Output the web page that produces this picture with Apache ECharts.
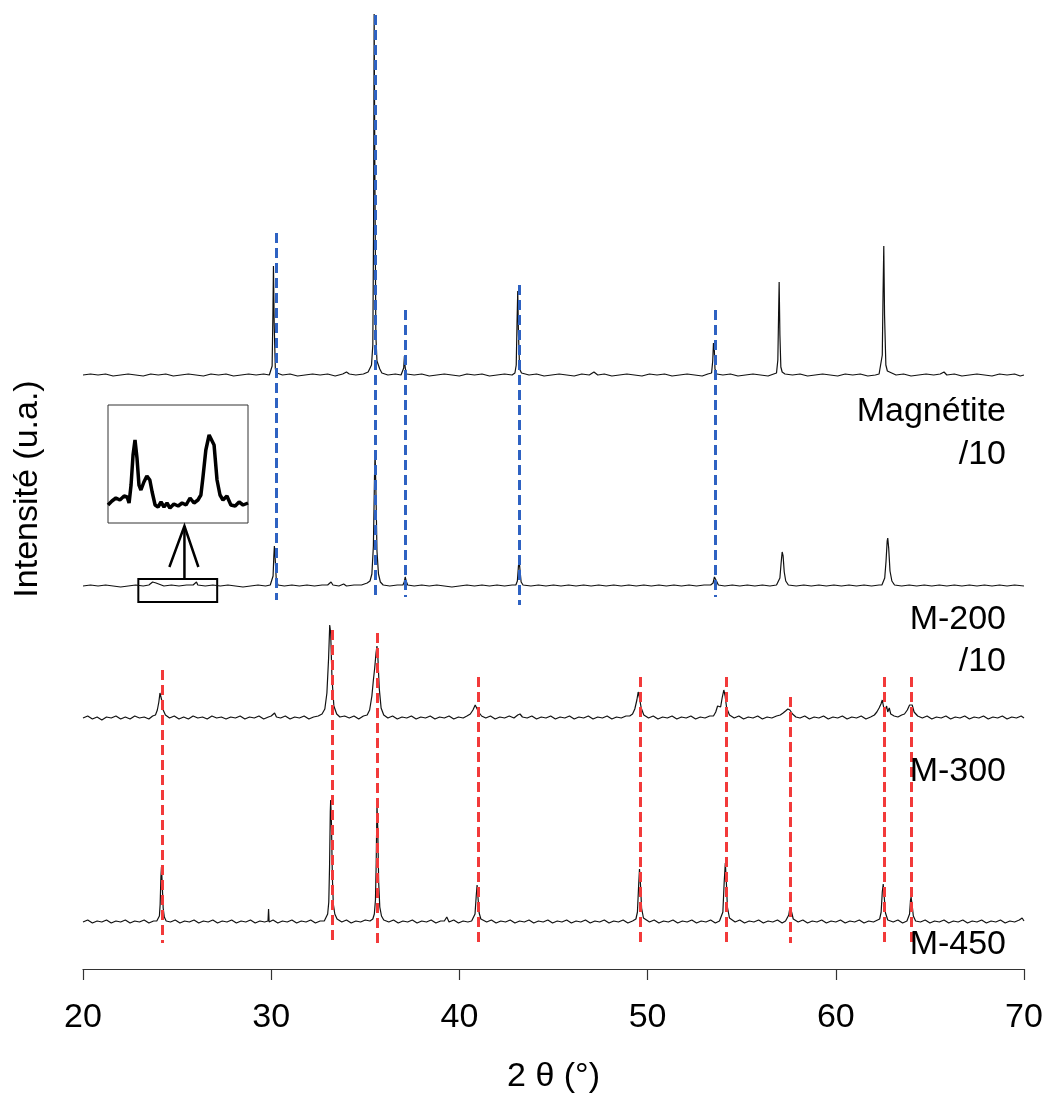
<!DOCTYPE html>
<html>
<head>
<meta charset="utf-8">
<script src="https://cdn.jsdelivr.net/npm/echarts@6/dist/echarts.min.js"></script>
<style>
html,body{margin:0;padding:0;background:#fff;}
#chart{width:1050px;height:1101px;}
</style>
</head>
<body>
<div id="chart"></div>
<script>
// ---------- DATA ----------
const xTickValues = [20, 30, 40, 50, 60, 70];
const seriesNames = ['Magnétite', 'M-200', 'M-300', 'M-450'];
const rightLabels = [['Magnétite', '/10'], ['M-200', '/10'], ['M-300'], ['M-450']];
// vertical offsets (stacking) of each pattern, u.a.
const offsets = [594, 383, 251, 47];

// Magnétite /10  : [2θ, intensity above own baseline]
const magnetite = [[20,0],[20.4,1],[20.8,0],[21.2,1],[21.6,-1],[22,0],[22.4,1],[22.8,0],[23.2,-1],[23.6,1],[24,0],[24.4,1],[24.8,-1],[25.2,0],[25.6,1],[26,0],[26.4,-1],[26.8,1],[27.2,0],[27.6,1],[28,-1],[28.4,0],[28.8,1],[29.2,0],[29.6,1],[29.9,0],
[29.98,2],[30.05,9],[30.09,60],[30.12,109],[30.16,50],[30.22,6],[30.3,2],
[30.6,0],[31,1],[31.4,-1],[31.8,0],[32.2,1],[32.6,0],[33,1],[33.4,-1],[33.8,1],[34.0,3],[34.15,1],[34.5,0],[34.9,1],[35.15,3],
[35.25,5],[35.33,10],[35.4,30],[35.44,150],[35.47,361],[35.51,200],[35.56,40],[35.62,14],[35.7,16],[35.77,6],[35.88,2],
[36.2,0],[36.6,1],[36.9,0],
[36.99,2],[37.04,7],[37.08,19],[37.12,7],[37.2,1],
[37.6,0],[38,1],[38.4,-1],[38.8,0],[39.2,1],[39.6,0],[40,-1],[40.4,1],[40.8,0],[41.2,1],[41.6,-1],[42,0],[42.4,1],[42.8,0],
[42.95,2],[43.02,10],[43.06,50],[43.1,84],[43.14,40],[43.2,6],[43.3,2],
[43.7,0],[44.1,1],[44.5,-1],[44.9,0],[45.3,1],[45.7,0],[46.1,-1],[46.5,1],[46.9,0],[47.15,3],[47.35,0],[47.7,1],[48.1,-1],[48.5,0],[48.9,1],[49.3,0],[49.7,-1],[50.1,1],[50.5,0],[50.9,1],[51.3,-1],[51.7,0],[52.1,1],[52.5,0],[52.9,-1],[53.2,1],
[53.4,2],[53.46,14],[53.5,32],[53.54,28],[53.58,6],[53.68,1],
[54,0],[54.4,1],[54.8,-1],[55.2,0],[55.6,1],[56,0],[56.4,-1],[56.7,1],
[56.85,2],[56.92,15],[56.96,60],[56.99,93],[57.03,40],[57.08,8],[57.15,3],[57.22,4],[57.3,1],
[57.7,0],[58.1,1],[58.5,-1],[58.9,0],[59.3,1],[59.7,0],[60.1,-1],[60.5,1],[60.9,0],[61.3,1],[61.7,-1],[62.1,0],[62.3,1],
[62.4,2],[62.47,20],[62.51,80],[62.55,129],[62.59,60],[62.66,10],[62.74,4],[62.84,2],
[63.2,0],[63.6,1],[64,-1],[64.4,0],[64.8,1],[65.2,0],[65.55,1],[65.75,3],[65.9,0],[66.3,1],[66.7,-1],[67.1,0],[67.5,1],[67.9,0],[68.3,-1],[68.7,1],[69.1,0],[69.5,1],[69.8,-1],[70,0]];

// M-200 /10
const m200 = [[20,0],[20.4,1],[20.8,0],[21.2,1],[21.6,0],[22,-1],[22.4,0],[22.8,1],[23.2,0],[23.5,1],
[23.6,2],[23.7,4],[23.78,2],[23.88,3],[23.98,1],[24.3,0],[24.7,1],[25.1,0],[25.5,1],[25.85,1],[25.95,3],[26.03,4],[26.1,1],[26.5,0],
[26.9,1],[27.3,0],[27.7,1],[28.1,0],[28.5,-1],[28.9,0],[29.3,1],[29.7,0],[29.95,1],
[30.03,2],[30.1,10],[30.14,30],[30.17,40],[30.21,28],[30.27,6],[30.36,1],
[30.7,0],[31.1,1],[31.5,0],[31.9,1],[32.3,0],[32.7,1],[33.0,1],[33.1,3],[33.18,4],[33.28,1],[33.6,0],[33.85,2],[34.0,0],[34.4,1],[34.8,1],[35.1,3],
[35.25,5],[35.35,12],[35.43,40],[35.49,110],[35.52,133],[35.56,100],[35.62,35],[35.7,12],[35.8,4],[35.95,1],
[36.3,0],[36.7,1],[37.0,1],[37.07,4],[37.12,9],[37.17,5],[37.25,1],
[37.6,0],[38,1],[38.4,0],[38.8,1],[39.2,0],[39.6,-1],[40,0],[40.4,1],[40.8,0],[41.2,1],[41.6,0],[42,1],[42.4,0],[42.8,1],[43.0,1],
[43.08,5],[43.13,18],[43.17,27],[43.21,18],[43.28,4],[43.38,1],
[43.8,0],[44.2,1],[44.6,0],[45,1],[45.4,0],[45.8,1],[46.2,0],[46.6,1],[47,0],[47.4,1],[47.8,0],[48.2,1],[48.6,0],[49,1],[49.4,0],[49.8,1],[50.2,0],[50.6,1],[51,0],[51.4,1],[51.8,0],[52.2,1],[52.6,0],[53,1],[53.35,1],
[53.48,3],[53.55,9],[53.6,11],[53.66,5],[53.76,1],
[54.1,0],[54.5,1],[54.9,0],[55.3,1],[55.7,0],[56.1,1],[56.5,0],[56.85,1],
[56.95,2],[57.03,8],[57.09,22],[57.15,34],[57.2,30],[57.26,14],[57.34,5],[57.48,1],
[57.9,0],[58.3,1],[58.7,0],[59.1,1],[59.5,0],[59.9,1],[60.3,0],[60.7,1],[61.1,0],[61.5,1],[61.9,0],[62.3,1],[62.45,1],
[62.52,2],[62.6,8],[62.67,25],[62.73,45],[62.76,48],[62.81,38],[62.88,15],[62.98,5],[63.12,1],
[63.5,0],[63.9,1],[64.3,0],[64.7,1],[65.1,0],[65.5,1],[65.9,0],[66.3,1],[66.7,0],[67.1,1],[67.5,0],[67.9,1],[68.3,0],[68.7,1],[69.1,0],[69.5,1],[70,0]];

// M-300
const m300 = [[20,0],[20.25,2],[20.5,-1],[20.75,1],[21,-2],[21.25,1],[21.5,0],[21.75,2],[22,-1],[22.25,1],[22.5,-1],[22.75,2],[23,0],[23.25,1],[23.5,-1],[23.7,2],
[23.85,3],[23.95,8],[24.03,16],[24.09,25],[24.13,27],[24.18,18],[24.26,8],[24.38,3],
[24.6,0],[24.85,2],[25.1,-1],[25.35,1],[25.6,-1],[25.85,2],[26.1,0],[26.35,1],[26.6,-1],[26.85,2],[27.1,0],[27.35,1],[27.6,-1],[27.85,1],[28.1,0],[28.35,2],[28.6,-1],[28.85,1],[29.1,0],[29.35,2],[29.6,-1],[29.85,1],
[30.0,2],[30.1,4],[30.18,5],[30.28,1],[30.5,0],[30.75,2],[31,-1],[31.25,1],[31.5,0],[31.75,2],[32,-1],[32.25,1],[32.5,2],
[32.7,4],[32.85,9],[32.96,25],[33.05,60],[33.11,93],[33.16,85],[33.23,40],[33.33,12],[33.48,4],[33.65,1],
[33.9,2],[34.15,0],[34.4,2],[34.65,-1],[34.9,2],
[35.1,3],[35.23,8],[35.35,22],[35.43,38],[35.5,50],[35.57,65],[35.62,72],[35.67,60],[35.74,30],[35.84,10],[35.98,3],
[36.2,0],[36.45,2],[36.7,-1],[36.95,1],[37.2,0],[37.45,2],[37.7,-1],[37.95,1],[38.2,0],[38.45,2],[38.7,-1],[38.95,1],[39.2,0],[39.45,2],[39.7,-1],[39.95,1],[40.2,0],[40.4,2],
[40.58,4],[40.72,8],[40.84,13],[40.92,14],[41.02,6],[41.18,2],
[41.4,0],[41.65,2],[41.9,-1],[42.15,1],[42.4,0],[42.65,2],[42.9,0],[43.1,3],[43.22,4],[43.35,1],[43.6,0],[43.85,2],[44.1,-1],[44.35,1],[44.6,0],[44.85,2],[45.1,-1],[45.35,1],[45.6,0],[45.85,2],[46.1,-1],[46.35,1],[46.6,0],[46.85,2],[47.1,-1],[47.35,1],[47.6,0],[47.85,2],[48.1,-1],[48.35,1],[48.6,0],[48.85,2],[49.05,2],
[49.2,4],[49.32,9],[49.43,18],[49.5,26],[49.57,20],[49.66,10],[49.8,3],
[50.05,0],[50.3,2],[50.55,-1],[50.8,1],[51.05,0],[51.3,2],[51.55,-1],[51.8,1],[52.05,0],[52.3,2],[52.55,-1],[52.8,1],[53.05,0],[53.3,2],[53.5,2],
[53.62,6],[53.72,12],[53.8,14],[53.88,11],[53.96,20],[54.05,28],[54.12,22],[54.2,10],[54.35,3],
[54.6,0],[54.85,2],[55.1,-1],[55.35,1],[55.6,0],[55.85,2],[56.1,-1],[56.35,1],[56.6,0],[56.85,2],[57.05,3],[57.2,5],[57.33,7],[57.45,9],[57.56,8],[57.7,4],[57.88,1],
[58.1,0],[58.35,2],[58.6,-1],[58.85,1],[59.1,0],[59.35,2],[59.6,-1],[59.85,1],[60.1,0],[60.35,2],[60.6,-1],[60.85,1],[61.1,0],[61.35,2],[61.6,-1],[61.85,1],[62.05,3],
[62.18,6],[62.3,10],[62.4,14],[62.47,18],[62.54,11],[62.62,8],[62.7,12],[62.76,6],[62.84,10],[62.92,4],[63.1,2],[63.3,1],[63.5,3],
[63.65,4],[63.8,8],[63.92,13],[63.99,15],[64.06,13],[64.16,6],[64.35,2],
[64.6,0],[64.85,2],[65.1,-1],[65.35,1],[65.6,0],[65.85,2],[66.1,-1],[66.35,1],[66.6,0],[66.85,2],[67.1,-1],[67.35,1],[67.6,0],[67.85,2],[68.1,-1],[68.35,1],[68.6,0],[68.85,2],[69.1,-1],[69.35,1],[69.6,0],[69.85,2],[70,0]];

// M-450
const m450 = [[20,0],[20.25,2],[20.5,-1],[20.75,1],[21,0],[21.25,2],[21.5,-1],[21.75,1],[22,0],[22.25,2],[22.5,-1],[22.75,1],[23,0],[23.25,2],[23.5,-1],[23.75,1],[23.92,1],
[24.0,2],[24.06,6],[24.1,18],[24.14,45],[24.17,55],[24.21,38],[24.26,14],[24.32,5],[24.42,1],
[24.65,0],[24.9,2],[25.15,-1],[25.4,1],[25.65,0],[25.9,2],[26.15,-1],[26.4,1],[26.65,0],[26.9,2],[27.15,-1],[27.4,1],[27.65,0],[27.9,2],[28.15,-1],[28.4,1],[28.65,0],[28.9,2],[29.15,-1],[29.4,1],[29.65,0],[29.83,1],[29.86,13],[29.89,0],[30.1,2],[30.35,-1],[30.6,1],[30.85,0],[31.1,2],[31.35,-1],[31.6,1],[31.85,0],[32.1,2],[32.35,-1],[32.6,1],[32.82,1],
[32.9,3],[33.0,8],[33.06,20],[33.1,55],[33.14,110],[33.16,122],[33.2,100],[33.25,45],[33.3,18],[33.38,8],[33.5,3],
[33.75,0],[34,2],[34.25,-1],[34.5,1],[34.75,0],[35,2],[35.25,1],
[35.4,3],[35.48,8],[35.54,22],[35.58,60],[35.62,117],[35.66,95],[35.71,40],[35.77,15],[35.86,6],[35.98,2],
[36.25,0],[36.5,2],[36.75,-1],[37,1],[37.25,0],[37.5,2],[37.75,-1],[38,1],[38.25,0],[38.5,2],[38.75,-1],[39,1],[39.2,1],[39.33,5],[39.45,0],[39.7,2],[39.95,-1],[40.2,1],[40.45,0],[40.65,1],
[40.75,2],[40.83,8],[40.89,25],[40.94,37],[40.99,24],[41.05,9],[41.14,3],
[41.45,0],[41.7,2],[41.95,-1],[42.2,1],[42.45,0],[42.7,2],[42.95,-1],[43.2,1],[43.45,0],[43.7,2],[43.95,-1],[44.2,1],[44.45,0],[44.7,2],[44.95,-1],[45.2,1],[45.45,0],[45.7,2],[45.95,-1],[46.2,1],[46.45,0],[46.7,2],[46.95,-1],[47.2,1],[47.45,0],[47.7,2],[47.95,-1],[48.2,1],[48.45,0],[48.7,2],[48.95,-1],[49.2,1],[49.3,1],
[49.38,3],[49.46,10],[49.52,35],[49.57,53],[49.62,38],[49.68,14],[49.78,4],
[50.1,0],[50.35,2],[50.6,-1],[50.85,1],[51.1,0],[51.35,2],[51.6,-1],[51.85,1],[52.1,0],[52.35,2],[52.6,-1],[52.85,1],[53.1,0],[53.35,2],[53.6,-1],[53.82,1],
[53.92,3],[54.0,10],[54.07,40],[54.13,59],[54.18,42],[54.24,15],[54.35,4],
[54.65,0],[54.9,2],[55.15,-1],[55.4,1],[55.65,0],[55.9,2],[56.15,-1],[56.4,1],[56.65,0],[56.9,2],[57.15,-1],[57.33,1],
[57.42,2],[57.5,7],[57.56,14],[57.6,16],[57.65,10],[57.74,3],
[58,0],[58.25,2],[58.5,-1],[58.75,1],[59,0],[59.25,2],[59.5,-1],[59.75,1],[60,0],[60.25,2],[60.5,-1],[60.75,1],[61,0],[61.25,2],[61.5,-1],[61.75,1],[62,0],[62.22,2],
[62.33,3],[62.41,10],[62.47,30],[62.52,38],[62.57,26],[62.64,9],[62.76,2],
[63.05,0],[63.3,2],[63.55,-1],[63.78,1],
[63.85,2],[63.92,8],[63.97,22],[64.0,25],[64.05,18],[64.12,6],[64.24,1],
[64.5,0],[64.75,2],[65,-1],[65.25,1],[65.5,0],[65.75,2],[66,-1],[66.25,1],[66.5,0],[66.75,2],[67,-1],[67.25,1],[67.5,0],[67.75,2],[68,-1],[68.25,1],[68.5,0],[68.75,2],[69,-1],[69.25,1],[69.5,0],[69.75,2],[69.9,4],[70,1]];

// Inset: zoom of M-200 between 22.9° and 27.15°
const insetRange = [22.9, 27.15];
const insetX = [22.9,23.02,23.14,23.26,23.39,23.48,23.54,23.6,23.66,23.72,23.78,23.84,23.9,23.99,24.08,24.17,24.24,24.33,24.42,24.51,24.6,24.69,24.78,24.9,25.03,25.15,25.27,25.39,25.51,25.63,25.72,25.78,25.87,25.97,26.03,26.12,26.21,26.3,26.39,26.51,26.63,26.76,26.88,27.0,27.15];
const insetY = [18,22,25,23,27,26,20,38,68,83,65,38,33,41,47,43,31,18,16,21,16,20,15,19,17,20,18,25,20,23,28,45,73,88,90,78,43,28,23,27,18,17,21,18,20];

// Reference peak positions (dashed lines): [2θ, top, bottom] in axis units
const blueLines = [[30.25,736,369],[35.51,954,372],[37.13,659,372],[43.2,684,364],[53.6,659,372]];
const redLines = [[24.23,299,26],[33.22,339,26],[35.61,336,26],[40.98,292,26],[49.6,292,26],[54.2,292,26],[57.56,272,26],[62.57,292,26],[64.02,292,26]];

// Zoom box on M-200 and arrow (axis units)
const zoomBox = [[22.94, 390], [27.13, 367]];
const arrowShaft = [[25.39, 390], [25.39, 443]];
const arrowHead = [[24.59, 402], [25.39, 443], [26.13, 402]];

// ---------- CHART ----------
const FONT = '"Liberation Sans", Arial, Helvetica, sans-serif';
const chart = echarts.init(document.getElementById('chart'), null, {renderer: 'canvas'});

const traces = [magnetite, m200, m300, m450];
const traceSeries = traces.map((arr, i) => ({
  name: seriesNames[i],
  type: 'line',
  xAxisIndex: 0, yAxisIndex: 0,
  data: arr.map(p => [p[0], p[1] + offsets[i]]),
  showSymbol: false, symbol: 'none',
  lineStyle: {color: '#111', width: 1.2},
  silent: true,
  z: 2
}));

// zoom box on M-200
traceSeries[1].markArea = {
  silent: true,
  itemStyle: {color: 'rgba(0,0,0,0)', borderColor: '#000', borderWidth: 2},
  data: [[{coord: zoomBox[0]}, {coord: zoomBox[1]}]]
};

function dashed(lines, color) {
  return {
    type: 'line', xAxisIndex: 0, yAxisIndex: 0, data: [], silent: true, z: 5,
    markLine: {
      silent: true, symbol: ['none', 'none'], animation: false,
      label: {show: false},
      lineStyle: {color: color, width: 3, type: [10, 5]},
      emphasis: {disabled: true},
      data: lines.map(l => [{coord: [l[0], l[1]]}, {coord: [l[0], l[2]]}])
    }
  };
}

const series = traceSeries.concat([
  dashed(blueLines, '#2e62c2'),
  dashed(redLines, '#f23a3a'),
  {
    type: 'lines', coordinateSystem: 'cartesian2d', xAxisIndex: 0, yAxisIndex: 0,
    polyline: true, silent: true, z: 6,
    lineStyle: {color: '#000', width: 2.5, opacity: 1},
    data: [{coords: arrowShaft}, {coords: arrowHead}]
  },
  {
    type: 'line', xAxisIndex: 1, yAxisIndex: 1,
    data: insetX.map((x, i) => [x, insetY[i]]),
    showSymbol: false, symbol: 'none', silent: true,
    lineStyle: {color: '#000', width: 3.5}
  }
]);

const option = {
  animation: false,
  backgroundColor: '#fff',
  grid: [
    {left: 83, right: 26, top: 9, bottom: 132, containLabel: false},
    {left: 108, top: 405, width: 140, height: 118, show: true, borderColor: '#333', borderWidth: 1, backgroundColor: '#fff', z: 3}
  ],
  xAxis: [
    {
      type: 'value', gridIndex: 0,
      min: xTickValues[0], max: xTickValues[xTickValues.length - 1],
      interval: xTickValues[1] - xTickValues[0],
      axisLine: {show: true, onZero: false, lineStyle: {color: '#333', width: 1.2}},
      axisTick: {show: true, inside: false, length: 11, lineStyle: {color: '#333', width: 1.2}},
      axisLabel: {show: true, margin: 32, fontSize: 34, color: '#000', fontFamily: FONT},
      splitLine: {show: false},
      name: '2 θ (°)', nameLocation: 'middle', nameGap: 91,
      nameTextStyle: {fontSize: 34, color: '#000', fontFamily: FONT}
    },
    {
      type: 'value', gridIndex: 1, min: insetRange[0], max: insetRange[1], show: false
    }
  ],
  yAxis: [
    {
      type: 'value', gridIndex: 0, min: 0, max: 960,
      axisLine: {show: false}, axisTick: {show: false}, axisLabel: {show: false},
      splitLine: {show: false},
      name: 'Intensité (u.a.)', nameLocation: 'middle', nameGap: 38, nameRotate: 90,
      nameTextStyle: {fontSize: 34, color: '#000', fontFamily: FONT}
    },
    {
      type: 'value', gridIndex: 1, min: 0, max: 118, show: false
    }
  ],
  graphic: [],
  series: series
};

// right-hand labels
const labelCenters = [[412, 455], [620, 662], [772], [945]];
rightLabels.forEach((lines, i) => {
  lines.forEach((t, j) => {
    option.graphic.push({
      type: 'text', silent: true, z: 10,
      x: 1006, y: labelCenters[i][j],
      style: {text: t, fill: '#000', font: '34px ' + FONT, textAlign: 'right', textVerticalAlign: 'middle'}
    });
  });
});

chart.setOption(option);
</script>
</body>
</html>
